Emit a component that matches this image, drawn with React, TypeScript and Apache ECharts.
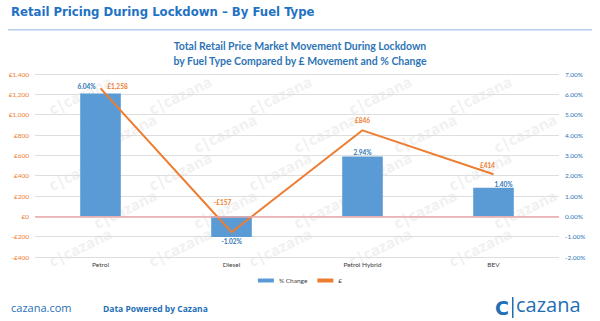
import React, { useEffect, useRef } from "react";
import * as echarts from "echarts";

const categories = ["Petrol", "Diesel", "Petrol Hybrid", "BEV"];
const pctChange = [6.04, -1.02, 2.94, 1.4];
const gbpChange = [1258, -157, 846, 414];
const leftTicks = { min: -400, max: 1400, interval: 200 };
const rightTicks = { min: -2, max: 7, interval: 1 };

const BLUE = "#5B9BD5";
const ORANGE = "#ED7D31";
const TEXTBLUE = "#2E75B6";

function fmtGbp(v: number) {
  const s = Math.abs(v).toLocaleString("en-GB");
  return (v < 0 ? "-£" : "£") + s;
}

export default function App() {
  const ref = useRef<HTMLDivElement>(null);
  useEffect(() => {
    if (!ref.current) return;
    const chart = echarts.init(ref.current, null, { renderer: "svg" });
    const wm: any[] = [];
    for (let r = 0; r < 5; r++) {
      for (let c = 0; c < 5; c++) {
        wm.push({
          type: "text",
          x: 80 + c * 100 + (r % 2) * 45,
          y: 95 + r * 38,
          rotation: Math.PI / 7,
          z: -10,
          silent: true,
          style: {
            text: "c|cazana",
            fill: "#F1F1F1",
            font: "bold 15px 'Open Sans', sans-serif",
            textAlign: "center",
            textVerticalAlign: "middle",
          },
        });
      }
    }
    const barLabelCfg = [
      { position: "top", offset: [-14, -2] },
      { position: "bottom", offset: [0, -1] },
      { position: "top", offset: [0, 1] },
      { position: "top", offset: [10, 2] },
    ];
    const lineLabelShift = [
      [17, 7],
      [-9, -21],
      [0, -1],
      [-6, 0],
    ];
    chart.setOption({
      animation: false,
      backgroundColor: "#ffffff",
      textStyle: { fontFamily: "Lato, 'Open Sans', sans-serif" },
      graphic: [
        ...wm,
        {
          type: "text",
          left: 11,
          top: 5,
          style: {
            text: "Retail Pricing During Lockdown \u2013 By Fuel Type",
            fill: "#1F72C4",
            font: "bold 13px 'DejaVu Sans Condensed', 'DejaVu Sans', sans-serif",
          },
        },
        {
          type: "rect",
          shape: { x: 8, y: 29, width: 584, height: 1.5 },
          style: { fill: "#B4CDEA" },
        },
        {
          type: "text",
          left: "center",
          top: 38,
          style: {
            text: "Total Retail Price Market Movement During Lockdown\nby Fuel Type Compared by £ Movement and % Change",
            fill: TEXTBLUE,
            font: "bold 10.5px Lato, 'Open Sans', sans-serif",
            textAlign: "center",
            lineHeight: 15,
          },
        },
        {
          type: "text",
          left: 11,
          top: 302,
          style: { text: "cazana.com", fill: "#1F6FB5", font: "11px 'Open Sans', sans-serif" },
        },
        {
          type: "text",
          left: 103,
          top: 304,
          style: { text: "Data Powered by Cazana", fill: "#1F6FB5", font: "bold 8.5px 'Open Sans', sans-serif" },
        },
        {
          type: "text",
          x: 502,
          y: 308,
          style: { text: "C", fill: "#1F6FB5", font: "900 19px 'DejaVu Sans', sans-serif", textAlign: "center", textVerticalAlign: "middle" },
        },
        {
          type: "rect",
          shape: { x: 512, y: 297, width: 1.5, height: 21 },
          style: { fill: "#1F6FB5" },
        },
        {
          type: "text",
          left: 516,
          top: 294,
          style: { text: "cazana", fill: "#1F6FB5", font: "20px 'Open Sans', sans-serif" },
        },
      ],
      grid: { left: 35, right: 41, top: 74, bottom: 64 },
      legend: {
        top: 272,
        left: "center",
        itemWidth: 16,
        itemHeight: 4,
        itemGap: 10,
        textStyle: { fontSize: 6.5, color: "#404040" },
        data: [
          { name: "% Change", icon: "rect" },
          { name: "£", icon: "rect", itemStyle: { color: ORANGE } },
        ],
      },
      xAxis: {
        type: "category",
        data: categories,
        axisLine: { show: false },
        axisTick: { show: false },
        axisLabel: { color: "#404040", fontSize: 6.5, margin: 4 },
      },
      yAxis: [
        {
          type: "value",
          ...leftTicks,
          axisLine: { show: false },
          axisTick: { show: false },
          axisLabel: { color: ORANGE, fontSize: 6.5, formatter: (v: number) => fmtGbp(v), margin: 6 },
          splitLine: { lineStyle: { color: "#DEDEDE", width: 1 } },
        },
        {
          type: "value",
          ...rightTicks,
          axisLine: { show: false },
          axisTick: { show: false },
          axisLabel: { color: TEXTBLUE, fontSize: 6.5, formatter: (v: number) => v.toFixed(2) + "%", margin: 6 },
          splitLine: { show: false },
        },
      ],
      series: [
        {
          name: "% Change",
          type: "bar",
          yAxisIndex: 1,
          barWidth: "31%",
          itemStyle: { color: BLUE },
          data: pctChange.map((v, i) => ({
            value: v,
            label: {
              show: true,
              position: barLabelCfg[i].position,
              offset: barLabelCfg[i].offset,
              formatter: (p: any) => p.value.toFixed(2) + "%",
              color: TEXTBLUE,
              fontSize: 6.5,
              fontWeight: "bold",
              distance: 2,
            },
          })),
          markLine: {
            silent: true,
            symbol: "none",
            label: { show: false },
            lineStyle: { color: "#EBA8A8", width: 1.5, type: "solid" },
            data: [{ yAxis: 0 }],
          },
        },
        {
          name: "£",
          type: "line",
          yAxisIndex: 0,
          symbol: "circle",
          symbolSize: 0.1,
          showSymbol: true,
          lineStyle: { color: ORANGE, width: 2 },
          itemStyle: { color: ORANGE },
          label: {
            show: true,
            position: "top",
            formatter: (p: any) => fmtGbp(p.value),
            color: ORANGE,
            fontSize: 6.5,
            fontWeight: "bold",
          },
          labelLayout: (params: any) => ({
            dx: lineLabelShift[params.dataIndex][0],
            dy: lineLabelShift[params.dataIndex][1],
            hideOverlap: false,
          }),
          data: gbpChange,
        },
      ],
    });
    return () => chart.dispose();
  }, []);
  return <div ref={ref} style={{ position: "fixed", left: 0, top: 0, width: 600, height: 321 }} />;
}
